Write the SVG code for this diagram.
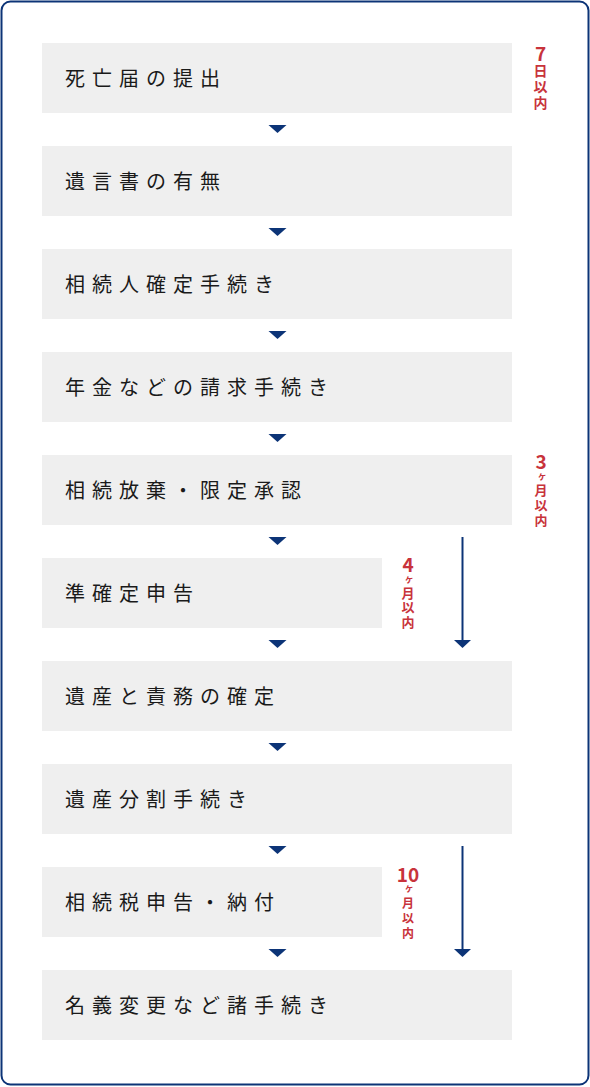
<svg xmlns="http://www.w3.org/2000/svg" width="590" height="1087" viewBox="0 0 590 1087">
<defs>
<style>
.box{fill:#efefef;}
.lbl{font-family:"Noto Sans CJK JP","Noto Sans",sans-serif;font-size:20px;letter-spacing:7px;fill:#1a1a1a;}
.tri{fill:#0c3477;}
.line{stroke:#0c3477;stroke-width:2;fill:none;}
.red{font-family:"Noto Sans CJK JP","Noto Sans",sans-serif;font-weight:bold;fill:#c8333b;text-anchor:middle;}
.vert{font-family:"Noto Sans CJK JP","Noto Sans",sans-serif;font-weight:bold;fill:#c8333b;writing-mode:vertical-rl;font-size:13px;}
.num{font-size:19px;}
.sm{font-size:10px;}
</style>
</defs>
<rect x="1.5" y="1.5" width="587" height="1083" rx="9" fill="#fff" stroke="#0c3477" stroke-width="2"/>
<g id="n1"><rect class="box" x="42" y="43" width="470" height="70"/><text class="lbl" x="65" y="86">死亡届の提出</text></g>
<g id="n2"><rect class="box" x="42" y="146" width="470" height="70"/><text class="lbl" x="65" y="189">遺言書の有無</text></g>
<g id="n3"><rect class="box" x="42" y="249" width="470" height="70"/><text class="lbl" x="65" y="292">相続人確定手続き</text></g>
<g id="n4"><rect class="box" x="42" y="352" width="470" height="70"/><text class="lbl" x="65" y="395">年金などの請求手続き</text></g>
<g id="n5"><rect class="box" x="42" y="455" width="470" height="70"/><text class="lbl" x="65" y="498">相続放棄・限定承認</text></g>
<g id="n6"><rect class="box" x="42" y="558" width="340" height="70"/><text class="lbl" x="65" y="601">準確定申告</text></g>
<g id="n7"><rect class="box" x="42" y="661" width="470" height="70"/><text class="lbl" x="65" y="704">遺産と責務の確定</text></g>
<g id="n8"><rect class="box" x="42" y="764" width="470" height="70"/><text class="lbl" x="65" y="807">遺産分割手続き</text></g>
<g id="n9"><rect class="box" x="42" y="867" width="340" height="70"/><text class="lbl" x="65" y="910">相続税申告・納付</text></g>
<g id="n10"><rect class="box" x="42" y="970" width="470" height="70"/><text class="lbl" x="65" y="1013">名義変更など諸手続き</text></g>
<g id="connectors">
<polygon class="tri" points="268.5,125 286.5,125 277.5,133"/>
<polygon class="tri" points="268.5,228 286.5,228 277.5,236"/>
<polygon class="tri" points="268.5,331 286.5,331 277.5,339"/>
<polygon class="tri" points="268.5,434 286.5,434 277.5,442"/>
<polygon class="tri" points="268.5,537 286.5,537 277.5,545"/>
<polygon class="tri" points="268.5,640 286.5,640 277.5,648"/>
<polygon class="tri" points="268.5,743 286.5,743 277.5,751"/>
<polygon class="tri" points="268.5,846 286.5,846 277.5,854"/>
<polygon class="tri" points="268.5,949 286.5,949 277.5,957"/>
<line class="line" x1="462.5" y1="537" x2="462.5" y2="641"/>
<polygon class="tri" points="454,640 471,640 462.5,648"/>
<line class="line" x1="462.5" y1="846" x2="462.5" y2="950"/>
<polygon class="tri" points="454,949 471,949 462.5,957"/>
</g>
<g id="t1">
<text class="red num" x="540.5" y="61">7</text>
<text class="vert" x="540.5" y="64" style="font-size:14px;letter-spacing:2px">日以内</text>
</g>
<g id="t2">
<text class="red num" x="541" y="469">3</text>
<text class="vert" x="541" y="472" style="letter-spacing:2px"><tspan style="font-size:10px">ヶ</tspan>月以内</text>
</g>
<g id="t3">
<text class="red num" x="408" y="572">4</text>
<text class="vert" x="408" y="575" style="letter-spacing:1.5px"><tspan style="font-size:10px">ヶ</tspan>月以内</text>
</g>
<g id="t4">
<text class="red num" x="408" y="882">10</text>
<text class="vert" x="408" y="884" style="font-size:12px;letter-spacing:3px"><tspan style="font-size:10px">ヶ</tspan>月以内</text>
</g>
</svg>
